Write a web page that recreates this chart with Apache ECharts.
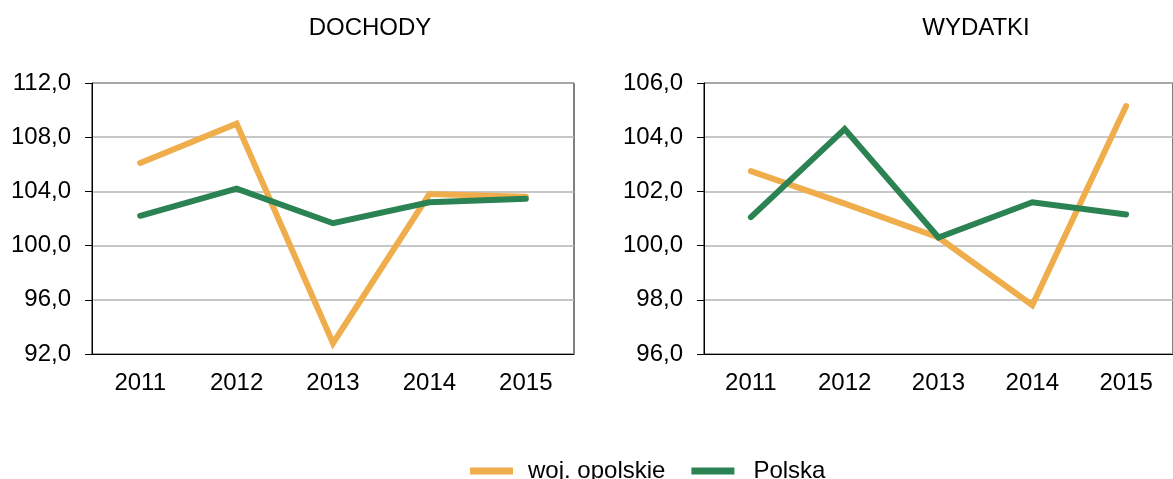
<!DOCTYPE html>
<html>
<head>
<meta charset="utf-8">
<script src="https://cdn.jsdelivr.net/npm/echarts@6/dist/echarts.min.js"></script>
<style>
  html, body { margin: 0; padding: 0; background: #fff; }
  #chart { width: 1173px; height: 479px; }
</style>
</head>
<body>
<div id="chart"></div>
<script>
// dane
const years = ['2011', '2012', '2013', '2014', '2015']
const seriesNames = ['woj. opolskie', 'Polska']

// DOCHODY
const dochodyOpolskie = [106.1, 109.0, 92.8, 103.8, 103.6]
const dochodyPolska = [102.2, 104.2, 101.65, 103.2, 103.45]

// WYDATKI
const wydatkiOpolskie = [102.75, 101.55, 100.3, 97.8, 105.15]
const wydatkiPolska = [101.05, 104.3, 100.3, 101.6, 101.15]

const colors = ['#efad4c', '#2b8252']
const font = 'Liberation Sans, Arial, sans-serif'
const fontSize = 24

const fmt = (v) => v.toFixed(1).replace('.', ',')

function yAxis(gridIndex, min, max, interval) {
  return {
    type: 'value',
    gridIndex,
    min,
    max,
    interval,
    axisLine: { show: true, lineStyle: { color: '#000', width: 1 } },
    axisTick: { show: true, length: 7, lineStyle: { color: '#000' } },
    axisLabel: { formatter: fmt, color: '#000', fontFamily: font, fontSize, margin: 21 },
    splitLine: { show: true, lineStyle: { color: '#b4b4b4', width: 1.5 } },
  }
}

function xAxis(gridIndex) {
  return {
    type: 'category',
    gridIndex,
    data: years,
    boundaryGap: true,
    axisLine: { show: true, lineStyle: { color: '#000', width: 1 } },
    axisTick: { show: false },
    axisLabel: { color: '#000', fontFamily: font, fontSize, margin: 17 },
  }
}

function line(name, data, idx, color) {
  return {
    name,
    type: 'line',
    xAxisIndex: idx,
    yAxisIndex: idx,
    data,
    symbol: 'none',
    smooth: false,
    lineStyle: { color, width: 6, cap: 'round', join: 'miter' },
    itemStyle: { color },
    animation: false,
  }
}

const chart = echarts.init(document.getElementById('chart'))

const options = {
  animation: false,
  title: [
    {
      text: 'DOCHODY',
      left: 365,
      top: 11,
      textAlign: 'center',
      textStyle: { fontFamily: font, fontSize, fontWeight: 'normal', color: '#000' },
    },
    {
      text: 'WYDATKI',
      left: 971,
      top: 11,
      textAlign: 'center',
      textStyle: { fontFamily: font, fontSize, fontWeight: 'normal', color: '#000' },
    },
  ],
  legend: {
    data: [
      { name: seriesNames[0], textStyle: { padding: [0, 0, 0, 10] } },
      { name: seriesNames[1], textStyle: { padding: [0, 0, 0, 14] } },
    ],
    left: 465,
    top: 454,
    icon: 'rect',
    itemWidth: 43,
    itemHeight: 7,
    itemGap: 26,
    textStyle: { fontFamily: font, fontSize, color: '#000' },
  },
  grid: [
    { left: 92, top: 83, width: 482, height: 271, show: true, borderColor: '#000', borderWidth: 1 },
    { left: 704, top: 83, width: 482, height: 271, show: true, borderColor: '#000', borderWidth: 1 },
  ],
  xAxis: [xAxis(0), xAxis(1)],
  yAxis: [yAxis(0, 92, 112, 4), yAxis(1, 96, 106, 2)],
  series: [
    line(seriesNames[0], dochodyOpolskie, 0, colors[0]),
    line(seriesNames[1], dochodyPolska, 0, colors[1]),
    line(seriesNames[0], wydatkiOpolskie, 1, colors[0]),
    line(seriesNames[1], wydatkiPolska, 1, colors[1]),
  ],
}

chart.setOption(options)
</script>
</body>
</html>
